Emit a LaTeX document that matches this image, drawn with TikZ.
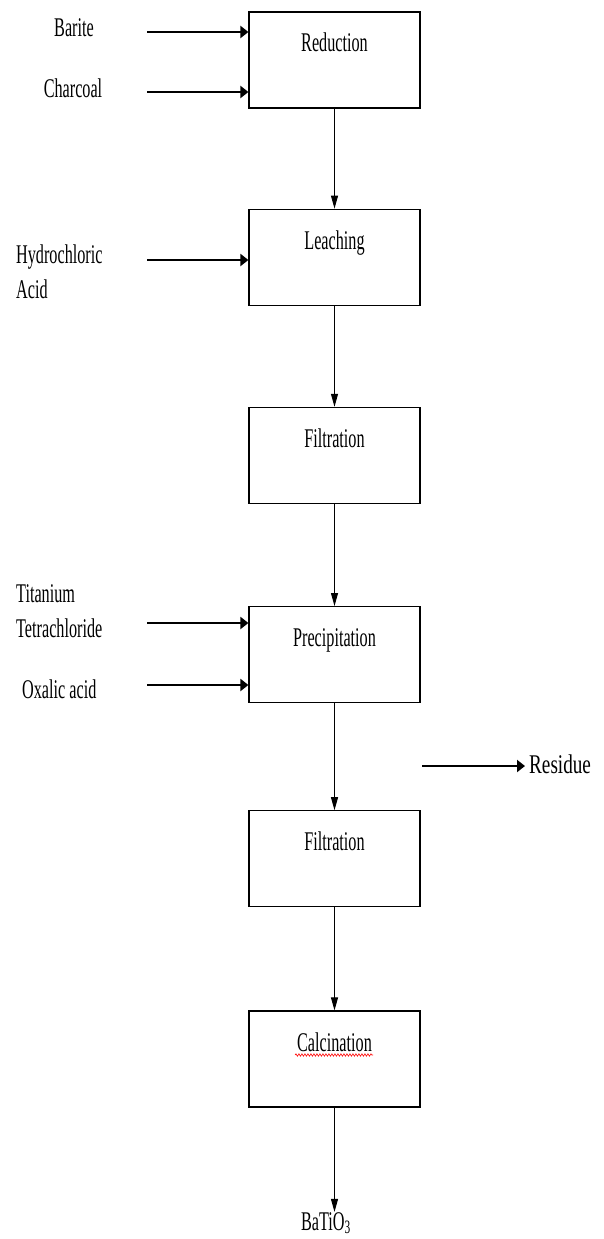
\documentclass[tikz,border=0pt]{standalone}
\usepackage{fontspec}
\setmainfont{Liberation Serif}[FakeStretch=0.6]
\newfontfamily\widefont{Liberation Serif}[FakeStretch=0.71]
\usetikzlibrary{arrows.meta,positioning,decorations.pathmorphing}

\begin{document}
\begin{tikzpicture}[
  x=1pt, y=-1pt,
  font=\fontsize{27}{35}\selectfont,
  box/.style={draw, line width=1.2pt, minimum width=171pt, inner sep=0pt, text height=40pt, text depth=56pt},
  arr/.style={-{Triangle[length=13pt, width=7pt]}, line width=1pt},
  feed/.style={-{Triangle[length=8pt, width=12pt]}, line width=2.2pt},
  lbl/.style={inner sep=0pt, align=left},
  squiggle/.style={red, line width=0.6pt, decorate, decoration={snake, amplitude=1.2pt, segment length=3pt}}
]
\useasboundingbox (0,0) rectangle (603,1239);

% process chain
\node[box] (red) at (334.5,60) {Reduction};
\node[box, below=100pt of red] (leach) {Leaching};
\node[box, below=101pt of leach] (filt1) {Filtration};
\node[box, below=102pt of filt1] (prec) {Precipitation};
\node[box, below=107pt of prec] (filt2) {Filtration};
\node[box, below=103pt of filt2] (calc) {Calcination};

% feeds and products
\node[lbl, anchor=base] (bar) at (74,37) {Barite};
\node[lbl, anchor=base] (char) at (73,97) {Charcoal};
\node[lbl, anchor=base west] (hcl) at (16,298) {Hydrochloric\\Acid};
\node[lbl, anchor=base west] (ti) at (16,637) {Titanium\\Tetrachloride};
\node[lbl, anchor=base west] (ox) at (22,698) {Oxalic acid};
\node[lbl, inner sep=4pt, anchor=base west] (res) at (525,773) {\widefont Residue};
\node[lbl, anchor=base] (bto) at (326,1230) {BaTiO\textsubscript{3}};

\coordinate (bar-in) at (147,32);
\coordinate (char-in) at (147,92);
\coordinate (hcl-in) at (147,260);
\coordinate (ti-in) at (147,623);
\coordinate (ox-in) at (147,685);
\coordinate (res-out) at (422,766);

\draw[feed] (bar-in) -- (bar-in -| red.west);
\draw[feed] (char-in) -- (char-in -| red.west);
\draw[feed] (hcl-in) -- (hcl-in -| leach.west);
\draw[feed] (ti-in) -- (ti-in -| prec.west);
\draw[feed] (ox-in) -- (ox-in -| prec.west);
\draw[feed] (res-out) -- (res-out -| res.west);

\draw[arr] (red) -- (leach);
\draw[arr] (leach) -- (filt1);
\draw[arr] (filt1) -- (prec);
\draw[arr] (prec) -- (filt2);
\draw[arr] (filt2) -- (calc);
\draw[arr] (calc.south) -- (calc.south |- bto.north);

\draw[squiggle] (295,1055) -- (373,1055);
\end{tikzpicture}
\end{document}
